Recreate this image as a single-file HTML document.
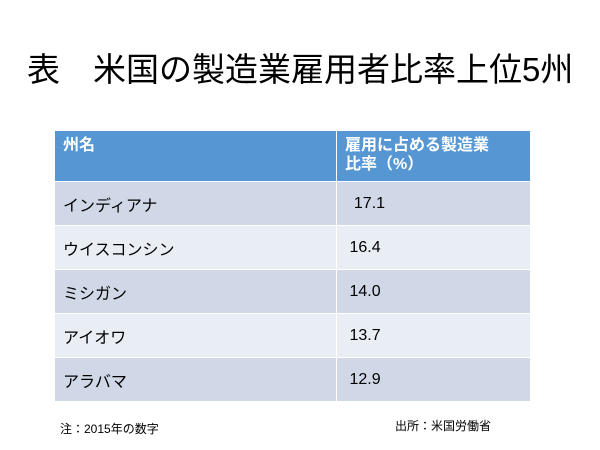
<!DOCTYPE html>
<html><head><meta charset="utf-8"><style>
body{margin:0;width:600px;height:450px;background:#fff;font-family:"Liberation Sans","Noto Sans CJK JP",sans-serif;position:relative;overflow:hidden}
.t{position:absolute;left:27px;top:50px;font-size:33px;line-height:40px;white-space:nowrap;color:#000}
table{position:absolute;left:54px;top:130px;border-collapse:collapse;width:477px}
td{border:1px solid #fff;font-size:16px;color:#000;padding:0 0 0 8px;height:43px}
th{background:#5596d3;color:#fff;font-weight:bold;text-align:left;font-size:16px;padding:5px 8px;vertical-align:top;height:40px;line-height:19px;border:1px solid #fff}
tr.a td{background:#d0d8e8}tr.b td{background:#e9edf4}
.n{position:absolute;top:420px;font-size:12px}
</style></head><body>
<div class="t">表　米国の製造業雇用者比率上位5州</div>
<table>
<tr><th style="width:265px">州名</th><th>雇用に占める製造業<br>比率（%）</th></tr>
<tr class="a"><td>インディアナ</td><td>&nbsp;&nbsp;17.1</td></tr>
<tr class="b"><td>ウイスコンシン</td><td>&nbsp;16.4</td></tr>
<tr class="a"><td>ミシガン</td><td>&nbsp;14.0</td></tr>
<tr class="b"><td>アイオワ</td><td>&nbsp;13.7</td></tr>
<tr class="a"><td>アラバマ</td><td>&nbsp;12.9</td></tr>
</table>
<div class="n" style="left:60px">注：2015年の数字</div>
<div class="n" style="left:395px;top:417px">出所：米国労働省</div>
</body></html>
